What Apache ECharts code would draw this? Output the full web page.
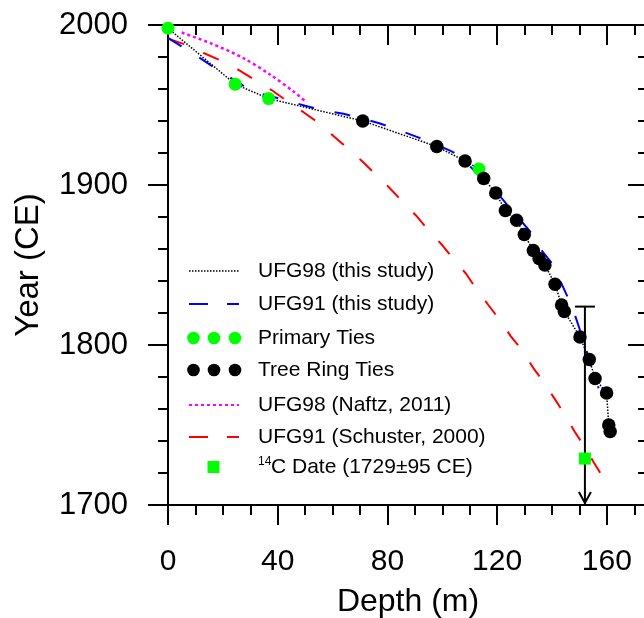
<!DOCTYPE html>
<html><head><meta charset="utf-8">
<script src="https://cdn.jsdelivr.net/npm/echarts@6/dist/echarts.min.js"></script>
<style>html,body{margin:0;padding:0;background:#fff}#c{width:644px;height:618px}</style>
</head><body><div id="c"></div>
<script>
// ---- data ----
const xTickLabels = [0, 40, 80, 120, 160];
const yTickLabels = [1700, 1800, 1900, 2000];

const primaryDepth = [0, 24.5, 36.7, 113.4];
const primaryYear  = [1998, 1963, 1954, 1910];

const treeDepth = [71.0, 98.0, 108.3, 115.1, 119.5, 123.0, 127.1, 129.9, 133.2, 135.3, 137.4, 141.1, 143.5, 144.5, 150.2, 153.6, 155.7, 159.9, 160.7, 161.2];
const treeYear  = [1940, 1924, 1915, 1904, 1895, 1884, 1878, 1869, 1859, 1854, 1850, 1838, 1825, 1821, 1805, 1791, 1779, 1770, 1750, 1746];

const ufg91Depth = [0, 12, 18, 27, 29.5, 38.5, 43, 50, 56, 64, 69, 77, 83, 90.5, 96, 103, 106.5, 116, 118.6, 123, 126, 132, 135.3, 140, 142.6, 145.7, 147.8, 152, 154.7, 157];
const ufg91Year  = [1992, 1979, 1972, 1962.6, 1959, 1955, 1953, 1949.5, 1947, 1944.5, 1942.4, 1938.6, 1935, 1930.2, 1926.7, 1921.3, 1918.3, 1901, 1898, 1889, 1883, 1871, 1861, 1851, 1841.6, 1830, 1821.7, 1800, 1784.6, 1773];

const naftzDepth = [5, 15.4, 27.5, 37.3, 45.8, 50.6];
const naftzYear  = [1995.3, 1988.7, 1979.3, 1968.9, 1958.4, 1951.5];

const schDepth = [0, 6, 13, 19, 25.7, 31.4, 37.6, 43, 49.4, 54.3, 60.3, 65, 70.7, 75.5, 80.7, 85.2, 90.5, 94.7, 100.2, 104, 108.6, 112.3, 116.8, 120.8, 125, 129.2, 133.2, 137.1, 141.1, 144.5, 148.4, 151.8, 155.3, 159.3];
const schYear  = [1991.5, 1988, 1982.5, 1978, 1972, 1966, 1959.5, 1953, 1945.5, 1939.6, 1930.7, 1923.6, 1915, 1907, 1898.3, 1890.2, 1880.8, 1872.3, 1862, 1853.7, 1844.7, 1835.3, 1825, 1816, 1805.4, 1796.7, 1785.6, 1776.5, 1766, 1757, 1745.5, 1736.6, 1726.4, 1715.3];

const c14Depth = [152];
const c14Year  = [1729];
const c14Err   = [95];

const legendNames = ['UFG98 (this study)', 'UFG91 (this study)', 'Primary Ties', 'Tree Ring Ties', 'UFG98 (Naftz, 2011)', 'UFG91 (Schuster, 2000)', 'C Date (1729\u00b195 CE)'];

// ---- build ----
const X_MIN = 0, X_MAX = 175, Y_MIN = 1700, Y_MAX = 2000;
const FONT = 'Liberation Sans, Arial, Helvetica, sans-serif';
const zip = (a, b) => a.map((v, i) => [v, b[i]]);
const allTies = zip(primaryDepth, primaryYear).concat(zip(treeDepth, treeYear)).sort((a, b) => a[0] - b[0]);

const GREEN = '#00ff00', BLUE = '#0000ff', RED = '#ff0000', MAG = '#ff00ff';

const chart = echarts.init(document.getElementById('c'), null, {renderer: 'canvas'});

function xAx(pos, interval, len, inside, labels, extra) {
  return Object.assign({
    type: 'value', position: pos, min: X_MIN, max: X_MAX, interval: interval,
    axisLine: {show: true, onZero: false, lineStyle: {color: '#000', width: 2}},
    axisTick: {show: true, length: len, inside: inside, lineStyle: {color: '#000', width: 2}},
    axisLabel: labels ? {show: true, margin: 42, fontSize: 30, color: '#000', fontFamily: FONT,
      showMaxLabel: false,
      formatter: v => xTickLabels.indexOf(v) >= 0 ? String(v) : ''} : {show: false},
    splitLine: {show: false}
  }, extra || {});
}
function yAx(pos, inside, labels, extra) {
  return Object.assign({
    type: 'value', position: pos, min: Y_MIN, max: Y_MAX, interval: 100,
    axisLine: {show: true, onZero: false, lineStyle: {color: '#000', width: 2}},
    axisTick: {show: true, length: 20, inside: inside, lineStyle: {color: '#000', width: 2}},
    minorTick: {show: true, splitNumber: 5, length: 10, lineStyle: {color: '#000', width: 2}},
    axisLabel: labels ? {show: true, margin: 40, fontSize: 31, color: '#000', fontFamily: FONT,
      formatter: v => yTickLabels.indexOf(v) >= 0 ? String(v) : ''} : {show: false},
    splitLine: {show: false}
  }, extra || {});
}

// legend graphics
const LX1 = 189, LX2 = 239, TX = 258;
const rows = [271, 304, 338, 370, 405, 437, 467];
const g = [];
function lineEl(y, color, w, dash) {
  g.push({type: 'line', shape: {x1: LX1, y1: y, x2: LX2, y2: y}, style: {stroke: color, lineWidth: w, lineDash: dash}, z: 100});
}
function dotsEl(y, color) {
  [193.5, 214, 235].forEach(cx => g.push({type: 'circle', shape: {cx: cx, cy: y, r: 6.3}, style: {fill: color}, z: 100}));
}
function textEl(y, t, x) {
  g.push({type: 'text', x: x || TX, y: y, style: {text: t, font: '21px ' + FONT, fill: '#000', verticalAlign: 'middle', textAlign: 'left'}, z: 100});
}
lineEl(rows[0], '#000', 1.5, [1.5, 1.5]); textEl(rows[0], legendNames[0]);
g.push({type: 'line', shape: {x1: 189, y1: rows[1], x2: 208, y2: rows[1]}, style: {stroke: BLUE, lineWidth: 2}, z: 100});
g.push({type: 'line', shape: {x1: 227, y1: rows[1], x2: 239, y2: rows[1]}, style: {stroke: BLUE, lineWidth: 2}, z: 100});
textEl(rows[1], legendNames[1]);
dotsEl(rows[2], GREEN); textEl(rows[2], legendNames[2]);
dotsEl(rows[3], '#000'); textEl(rows[3], legendNames[3]);
lineEl(rows[4], MAG, 2, [3, 3]); textEl(rows[4], legendNames[4]);
g.push({type: 'line', shape: {x1: 189, y1: rows[5], x2: 208, y2: rows[5]}, style: {stroke: RED, lineWidth: 2}, z: 100});
g.push({type: 'line', shape: {x1: 227, y1: rows[5], x2: 239, y2: rows[5]}, style: {stroke: RED, lineWidth: 2}, z: 100});
textEl(rows[5], legendNames[5]);
g.push({type: 'rect', shape: {x: 207.5, y: rows[6] - 6, width: 12, height: 12}, style: {fill: GREEN}, z: 100});
g.push({type: 'text', x: TX, y: rows[6] - 5, style: {text: '14', font: '12px ' + FONT, fill: '#000', verticalAlign: 'middle', textAlign: 'left'}, z: 100});
textEl(rows[6], legendNames[6], TX + 13);

const option = {
  animation: false,
  backgroundColor: '#fff',
  grid: {left: 168, top: 25, right: -4, bottom: 113, containLabel: false, outerBoundsMode: 'none'},
  xAxis: [
    xAx('bottom', 40, 20, false, true, {name: 'Depth (m)', nameLocation: 'middle', nameGap: 81,
      nameTextStyle: {fontSize: 32, color: '#000', fontFamily: FONT}}),
    xAx('bottom', 10, 10, false, false),
    xAx('top', 40, 20, true, false),
    xAx('top', 10, 10, true, false)
  ],
  yAxis: [
    yAx('left', false, true, {name: 'Year (CE)', nameLocation: 'middle', nameGap: 123,
      nameTextStyle: {fontSize: 33, color: '#000', fontFamily: FONT}}),
    yAx('right', true, false)
  ],
  graphic: g,
  series: [
    {type: 'line', name: legendNames[5], data: zip(schDepth, schYear), showSymbol: false, symbol: 'none',
      lineStyle: {color: RED, width: 2, type: [17, 21]}, clip: false, z: 3},
    {type: 'line', name: legendNames[4], data: zip(naftzDepth, naftzYear), showSymbol: false, symbol: 'none', smooth: 0.3,
      lineStyle: {color: MAG, width: 2.5, type: [3, 3]}, clip: false, z: 3},
    {type: 'line', name: legendNames[1], data: zip(ufg91Depth, ufg91Year), showSymbol: false, symbol: 'none',
      lineStyle: {color: BLUE, width: 2, type: [16, 21]}, clip: false, z: 3},
    {type: 'line', name: legendNames[0], data: allTies, showSymbol: false, symbol: 'none',
      lineStyle: {color: '#000', width: 1.5, type: [1.5, 1.5]}, clip: false, z: 4},
    {type: 'custom', name: 'c14err', data: c14Depth.map((d, i) => [d, c14Year[i], c14Err[i]]), clip: false, z: 5,
      renderItem: function (params, api) {
        const d = api.value(0), y = api.value(1), e = api.value(2);
        const top = api.coord([d, y + e]);
        const low = Math.max(y - e, Y_MIN);
        const bot = api.coord([d, low]);
        const ch = [
          {type: 'line', shape: {x1: top[0], y1: top[1], x2: bot[0], y2: bot[1] - 1}, style: {stroke: '#000', lineWidth: 2}},
          {type: 'line', shape: {x1: top[0] - 10, y1: top[1], x2: top[0] + 10, y2: top[1]}, style: {stroke: '#000', lineWidth: 2}}
        ];
        if (y - e < Y_MIN) {
          ch.push({type: 'polyline', shape: {points: [[bot[0] - 6, bot[1] - 13], [bot[0], bot[1] - 2], [bot[0] + 6, bot[1] - 13]]},
            style: {stroke: '#000', fill: null, lineWidth: 2}});
        }
        return {type: 'group', children: ch};
      }},
    {type: 'scatter', name: legendNames[6], data: zip(c14Depth, c14Year), symbol: 'rect', symbolSize: 12,
      itemStyle: {color: GREEN, opacity: 1}, clip: false, z: 6},
    {type: 'scatter', name: legendNames[2], data: zip(primaryDepth, primaryYear), symbol: 'circle', symbolSize: 13,
      itemStyle: {color: GREEN, opacity: 1}, clip: false, z: 6},
    {type: 'scatter', name: legendNames[3], data: zip(treeDepth, treeYear), symbol: 'circle', symbolSize: 13.5,
      itemStyle: {color: '#000', opacity: 1}, clip: false, z: 7}
  ]
};
chart.setOption(option);
</script>
</body></html>
